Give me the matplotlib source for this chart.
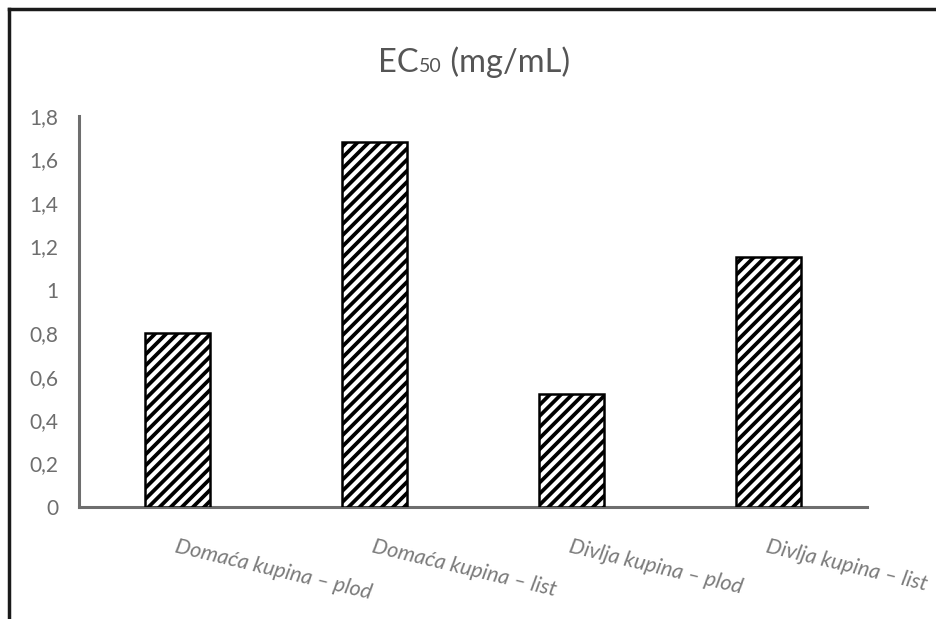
import matplotlib
matplotlib.use("Agg")
import matplotlib.pyplot as plt
from matplotlib.lines import Line2D

categories = ["Domaća kupina – plod", "Domaća kupina – list",
              "Divlja kupina – plod", "Divlja kupina – list"]
ec50_values = [0.80, 1.68, 0.52, 1.15]
y_ticks = [0, 0.2, 0.4, 0.6, 0.8, 1.0, 1.2, 1.4, 1.6, 1.8]
y_tick_labels = ["0", "0,2", "0,4", "0,6", "0,8", "1", "1,2", "1,4", "1,6", "1,8"]

plt.rcParams["font.family"] = ["Lato", "DejaVu Sans"]
plt.rcParams["hatch.linewidth"] = 2.7
plt.rcParams["hatch.color"] = "black"

fig = plt.figure(figsize=(9.36, 6.19), dpi=100)
W, H = 936, 619
ax = fig.add_axes([79 / W, 1 - 507 / H, (867 - 79) / W, (507 - 116) / H])

positions = [i + 0.5 for i in range(len(categories))]
ax.bar(positions, ec50_values, width=0.33, facecolor="white",
       edgecolor="black", linewidth=1.8, hatch="///", zorder=3)

ax.set_xlim(0, 4)
ax.set_ylim(0, 1.8)
ax.set_yticks(y_ticks)
ax.set_yticklabels(y_tick_labels, color="#6e6e6e", fontsize=15)
ax.tick_params(axis="y", length=0, pad=15)
ax.set_xticks([])

for side in ("top", "right"):
    ax.spines[side].set_visible(False)
for side in ("left", "bottom"):
    ax.spines[side].set_color("#6e6e6e")
    ax.spines[side].set_linewidth(2.2)

for x, label in zip(positions, categories):
    ax.annotate(label, xy=(x, 0), xycoords="data",
                xytext=(0, -21), textcoords="offset points",
                ha="left", va="top", rotation=-13.5, rotation_mode="anchor",
                fontsize=15.5, style="italic", color="#7a7a7a")

# title: "EC" followed by a small "50" sitting on the baseline, then the unit
renderer = fig.canvas.get_renderer()
title_color = "#555555"
title_y = 1 - 72 / H
parts = [("EC", 23.5), ("50", 14), (" (mg/mL)", 23.5)]
texts = []
for s, size in parts:
    t = fig.text(0, title_y, s, ha="left", va="baseline", fontsize=size,
                 color=title_color)
    texts.append(t)
widths = [t.get_window_extent(renderer).width for t in texts]
x_px = W / 2 + 6 - sum(widths) / 2
for t, w in zip(texts, widths):
    t.set_x(x_px / W)
    x_px += w

# outer frame (left and top edges)
fig.add_artist(Line2D([9 / W, 9 / W], [0, 1 - 9 / H], transform=fig.transFigure,
                      color="#1a1a1a", linewidth=2.5))
fig.add_artist(Line2D([9 / W, 1], [1 - 9 / H, 1 - 9 / H], transform=fig.transFigure,
                      color="#1a1a1a", linewidth=2.5))

fig.savefig("out.png", dpi=100)
